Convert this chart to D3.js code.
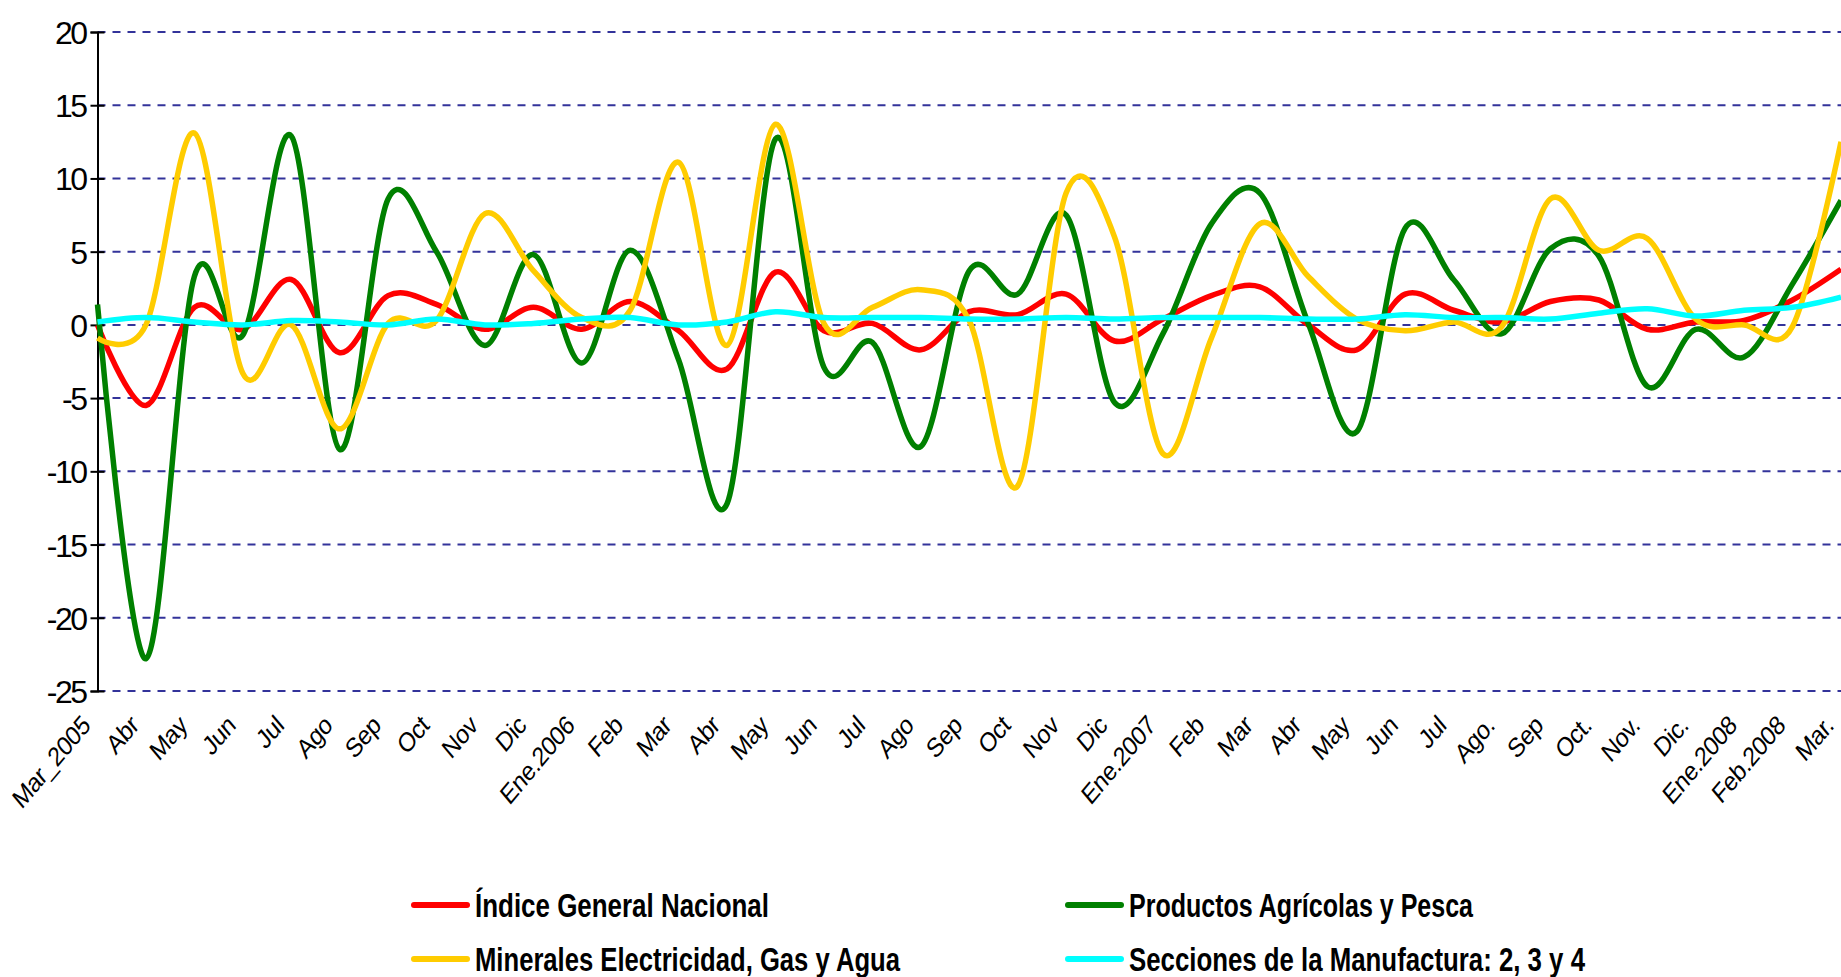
<!DOCTYPE html>
<html>
<head>
<meta charset="utf-8">
<script src="https://cdn.jsdelivr.net/npm/d3@7"></script>
<style>
  html, body { margin: 0; padding: 0; background: #ffffff; }
  svg { display: block; }
</style>
</head>
<body>
<svg id="chart" width="1841" height="977"></svg>
<script>
// ---------- data ----------
const categories = ["Mar_2005","Abr","May","Jun","Jul","Ago","Sep","Oct","Nov","Dic",
  "Ene.2006","Feb","Mar","Abr","May","Jun","Jul","Ago","Sep","Oct","Nov","Dic",
  "Ene.2007","Feb","Mar","Abr","May","Jun","Jul","Ago.","Sep","Oct.","Nov.","Dic.",
  "Ene.2008","Feb.2008","Mar."];

const indiceGeneral = [0.0,-5.5,1.2,-0.3,3.1,-1.9,2.0,1.4,-0.3,1.2,
  -0.3,1.6,-0.4,-3.0,3.6,-0.4,0.1,-1.7,0.9,0.7,2.1,-1.1,
  0.4,2.0,2.6,0.0,-1.7,2.1,1.0,0.2,1.6,1.7,-0.3,0.2,
  0.3,1.7,3.8];

const agricolasPesca = [1.4,-22.8,3.3,-0.7,12.9,-8.5,8.6,5.0,-1.4,4.8,
  -2.6,5.1,-2.4,-12.2,12.7,-2.9,-1.2,-8.3,3.7,2.1,7.5,-5.3,
  -0.6,6.9,9.0,0.1,-7.3,6.6,3.1,-0.6,5.2,4.7,-4.2,-0.3,
  -2.2,2.8,8.5];

const mineralesElec = [-0.9,0.0,13.1,-3.3,0.0,-7.1,0.1,0.3,7.6,3.7,
  0.5,1.0,11.1,-1.4,13.7,0.1,1.2,2.4,0.3,-11.0,9.0,6.0,
  -8.8,-0.9,6.9,3.3,0.4,-0.4,0.2,-0.1,8.6,5.1,5.9,0.4,
  0.0,-0.1,12.5];

const manufactura = [0.2,0.5,0.2,0.0,0.3,0.2,0.0,0.4,0.0,0.1,
  0.4,0.5,0.0,0.2,0.9,0.5,0.5,0.5,0.4,0.4,0.5,0.4,
  0.5,0.5,0.5,0.4,0.4,0.7,0.5,0.5,0.4,0.8,1.1,0.6,
  1.0,1.2,1.9];

const yTicks = [20,15,10,5,0,-5,-10,-15,-20,-25];

const seriesNames = ["Índice General Nacional","Productos Agrícolas y Pesca",
  "Minerales Electricidad, Gas y Agua","Secciones de la Manufactura: 2, 3 y 4"];
const seriesValues = [indiceGeneral, agricolasPesca, mineralesElec, manufactura];
const seriesColors = ["#ff0000","#008000","#ffcc00","#00ffff"];

// ---------- layout ----------
const svg = d3.select("#chart");
const plotLeft = 97.5, plotRight = 1841, plotTop = 32, plotBottom = 691;

const x = d3.scaleLinear().domain([0, categories.length - 1]).range([plotLeft, plotRight]);
const y = d3.scaleLinear().domain([-25, 20]).range([plotBottom, plotTop]);

// gridlines
svg.append("g").selectAll("line").data(yTicks).join("line")
  .attr("x1", plotLeft).attr("x2", plotRight)
  .attr("y1", d => y(d)).attr("y2", d => y(d))
  .attr("stroke", "#33339a").attr("stroke-width", 2)
  .attr("stroke-dasharray", "8,7");

// y axis
const yAxis = d3.axisLeft(y).tickValues(yTicks).tickSizeOuter(0).tickSize(7).tickPadding(6)
  .tickFormat(d => String(d));
const gy = svg.append("g").attr("transform", `translate(${plotLeft},0)`).call(yAxis);
gy.select(".domain").attr("stroke", "#000").attr("stroke-width", 2);
gy.selectAll(".tick line").attr("x1", 7).attr("x2", -7).attr("stroke", "#000").attr("stroke-width", 2);
gy.selectAll(".tick text")
  .attr("font-family", "'Liberation Sans', Arial, sans-serif")
  .attr("font-size", 32).attr("letter-spacing", "-2.5px")
  .attr("fill", "#000").attr("dy", "0.36em").attr("x", -12);

// x category labels (rotated, horizontally condensed like the original)
svg.append("g").selectAll("text").data(categories).join("text")
  .attr("transform", (d, i) => `translate(${x(i) - 6},${plotBottom + 36}) scale(0.84,1) rotate(-45)`)
  .attr("text-anchor", "end")
  .attr("font-family", "'Liberation Sans', Arial, sans-serif")
  .attr("font-size", 27).attr("letter-spacing", "-0.5px")
  .attr("fill", "#000")
  .text(d => d);

// lines
const line = d3.line()
  .x((d, i) => x(i))
  .y(d => y(d))
  .curve(d3.curveCardinal.tension(0));

svg.append("g").selectAll("path").data(seriesValues).join("path")
  .attr("d", d => line(d))
  .attr("fill", "none")
  .attr("stroke", (d, i) => seriesColors[i])
  .attr("stroke-width", 5.5)
  .attr("stroke-linejoin", "round");

// legend
const legendPos = [[414, 905], [1068, 905], [414, 959], [1068, 959]];
const legendWidths = [294, 344, 425, 456];
const lg = svg.append("g").selectAll("g").data(seriesNames).join("g")
  .attr("transform", (d, i) => `translate(${legendPos[i][0]},${legendPos[i][1]})`);
lg.append("line")
  .attr("x1", 0).attr("x2", 53).attr("y1", 0).attr("y2", 0)
  .attr("stroke", (d, i) => seriesColors[i]).attr("stroke-width", 6)
  .attr("stroke-linecap", "round");
lg.append("text")
  .attr("x", 61).attr("dy", "0.36em")
  .attr("font-family", "'Liberation Sans', Arial, sans-serif")
  .attr("font-weight", "bold").attr("font-size", 33)
  .attr("textLength", (d, i) => legendWidths[i])
  .attr("lengthAdjust", "spacingAndGlyphs")
  .attr("fill", "#000")
  .text(d => d);
</script>
</body>
</html>
